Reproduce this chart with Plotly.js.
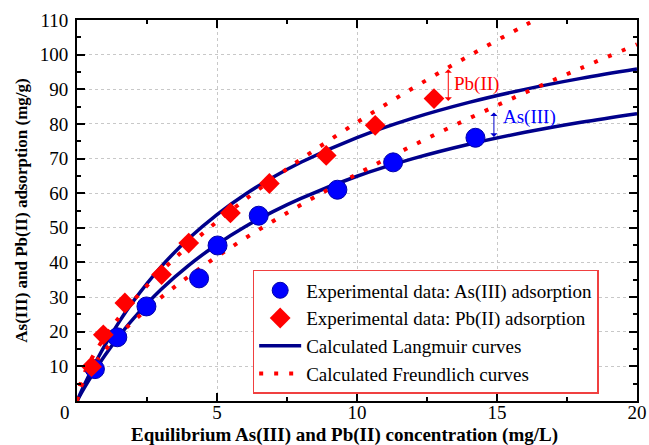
<!DOCTYPE html>
<html>
<head>
<meta charset="utf-8">
<script src="https://cdn.plot.ly/plotly-3.0.1.min.js"></script>
<style>html,body{margin:0;padding:0;background:#fff;}#chart{width:649px;height:445px;}</style>
</head>
<body>
<div id="chart"></div>
<script>
// Experimental data
const asC = [0.64, 1.44, 2.48, 4.36, 5.02, 6.49, 9.3, 11.29, 14.23];
const asQ = [9.2, 18.4, 27.3, 35.4, 44.9, 53.5, 61.0, 68.9, 76.0];
const pbC = [0.52, 0.94, 1.71, 3.02, 3.99, 5.48, 6.87, 8.9, 10.65, 12.75];
const pbQ = [9.9, 19.1, 28.3, 36.5, 45.6, 54.3, 62.8, 70.9, 79.6, 87.3];

// Calculated curves
const curveC = [0, 0.25, 0.5, 1, 1.5, 2, 3, 4, 5, 6, 7, 8, 10, 12, 14, 16, 18, 20];
const asLangmuir = [0, 3.61, 7.00, 13.19, 18.71, 23.66, 32.18, 39.24, 45.20, 50.28, 54.68, 58.52, 64.89, 69.97, 74.12, 77.57, 80.48, 82.97];
const pbLangmuir = [0, 4.45, 8.60, 16.13, 22.78, 28.69, 38.74, 46.97, 53.84, 59.64, 64.62, 68.94, 76.05, 81.67, 86.22, 89.98, 93.14, 95.83];
const frC = [0, 0.1, 0.25, 0.5, 1, 1.5, 2, 3, 4, 5, 6, 7, 8, 10, 12, 14, 16, 18, 20];
const asFreundlich = [0, 3.25, 5.91, 9.29, 14.6, 19.02, 22.94, 29.88, 36.05, 41.69, 46.96, 51.92, 56.65, 65.52, 73.79, 81.59, 89.01, 96.11, 102.96];
const pbFrC = [0, 0.1, 0.25, 0.5, 1, 1.5, 2, 3, 4, 5, 6, 7, 8, 10, 12, 14, 16, 17];
const pbFreundlich = [0, 4.30, 7.70, 11.97, 18.6, 24.07, 28.90, 37.41, 44.92, 51.77, 58.13, 64.12, 69.80, 80.45, 90.34, 99.66, 108.49, 112.7];

// Tick labels
const xTicks = [5, 10, 15, 20];
const yTicks = [10, 20, 30, 40, 50, 60, 70, 80, 90, 100, 110];

const serif = 'Liberation Serif, Times New Roman, serif';
const navy = '#00008B';
const dotDash = '4px,11px';

const traces = [
  {x: curveC, y: asLangmuir, mode: 'lines', line: {color: navy, width: 3.5, shape: 'spline'}, showlegend: false, hoverinfo: 'skip'},
  {x: curveC, y: pbLangmuir, mode: 'lines', line: {color: navy, width: 3.5, shape: 'spline'}, showlegend: false, hoverinfo: 'skip'},
  {x: frC, y: asFreundlich, mode: 'lines', line: {color: '#ff0000', width: 4, dash: dotDash, shape: 'spline'}, showlegend: false, hoverinfo: 'skip'},
  {x: pbFrC, y: pbFreundlich, mode: 'lines', line: {color: '#ff0000', width: 4, dash: dotDash, shape: 'spline'}, showlegend: false, hoverinfo: 'skip'},
  {x: asC, y: asQ, mode: 'markers', name: 'Experimental data: As(III) adsorption',
   marker: {symbol: 'circle', size: 19, color: '#0000ff', line: {color: '#0000aa', width: 1}}},
  {x: pbC, y: pbQ, mode: 'markers', name: 'Experimental data: Pb(II) adsorption',
   marker: {symbol: 'diamond', size: 16, color: '#ff0000', line: {width: 0}}},
  {x: [null], y: [null], mode: 'lines', name: 'Calculated Langmuir curves', line: {color: navy, width: 3.5}},
  {x: [null], y: [null], mode: 'lines', name: 'Calculated Freundlich curves', line: {color: '#ff0000', width: 4, dash: dotDash}}
];

const axisCommon = {
  showline: true, linecolor: '#000', linewidth: 2, mirror: 'ticks',
  ticks: 'inside', ticklen: 8, tickwidth: 2, tickcolor: '#000',
  showgrid: true, gridcolor: '#c8c8c8', griddash: 'dot', gridwidth: 1,
  zeroline: false,
  tickfont: {family: serif, size: 19, color: '#000'}
};

const layout = {
  width: 649, height: 445,
  margin: {l: 77, r: 12, t: 20, b: 44},
  paper_bgcolor: '#fff', plot_bgcolor: '#fff',
  xaxis: Object.assign({}, axisCommon, {
    range: [0, 20], tickmode: 'array', tickvals: xTicks, ticktext: xTicks.map(String),
    ticklabelstandoff: -7,
    minor: {tickmode: 'linear', tick0: 0, dtick: 2.5, ticks: 'inside', ticklen: 4, tickwidth: 2, tickcolor: '#000', showgrid: false}
  }),
  yaxis: Object.assign({}, axisCommon, {
    range: [0, 110], tickmode: 'array', tickvals: yTicks, ticktext: yTicks.map(String),
    ticklabelstandoff: 3,
    minor: {tickmode: 'linear', tick0: 0, dtick: 5, ticks: 'inside', ticklen: 4, tickwidth: 2, tickcolor: '#000', showgrid: false},
    title: {text: '<b>As(III) and Pb(II) adsorption (mg/g)</b>', font: {family: serif, size: 17, color: '#000'}, standoff: 8}
  }),
  legend: {
    x: 0.3137, y: 0.344, xanchor: 'left', yanchor: 'top',
    bgcolor: '#fff', bordercolor: '#f04040', borderwidth: 1.5,
    font: {family: serif, size: 19, color: '#000'},
    itemsizing: 'trace', itemwidth: 42
  },
  annotations: [
    {xref: 'paper', yref: 'paper', x: 0.477, y: -0.088, xanchor: 'center', yanchor: 'middle', showarrow: false,
     text: '<b>Equilibrium As(III) and Pb(II) concentration (mg/L)</b>', font: {family: serif, size: 19, color: '#000'}},
    {xref: 'paper', yref: 'paper', x: -0.021, y: -0.029, xanchor: 'center', yanchor: 'middle', showarrow: false,
     text: '0', font: {family: serif, size: 19, color: '#000'}},
    {x: 13.26, y: 95.8, ax: 13.26, ay: 86.2, axref: 'x', ayref: 'y', text: '', showarrow: true,
     arrowside: 'end+start', arrowhead: 1, arrowsize: 1.2, arrowwidth: 1, arrowcolor: '#ff0000', standoff: 0, startstandoff: 0},
    {x: 14.89, y: 83.3, ax: 14.89, ay: 75.8, axref: 'x', ayref: 'y', text: '', showarrow: true,
     arrowside: 'end+start', arrowhead: 1, arrowsize: 1.2, arrowwidth: 1, arrowcolor: '#0000cc', standoff: 0, startstandoff: 0},
    {x: 14.25, y: 91.5, text: 'Pb(II)', showarrow: false, xanchor: 'center', yanchor: 'middle',
     font: {family: serif, size: 19, color: '#ff0000'}},
    {x: 16.17, y: 81.9, text: 'As(III)', showarrow: false, xanchor: 'center', yanchor: 'middle',
     font: {family: serif, size: 19, color: '#0000ff'}}
  ]
};

Plotly.newPlot('chart', traces, layout, {displayModeBar: false, staticPlot: true});
</script>
</body>
</html>
